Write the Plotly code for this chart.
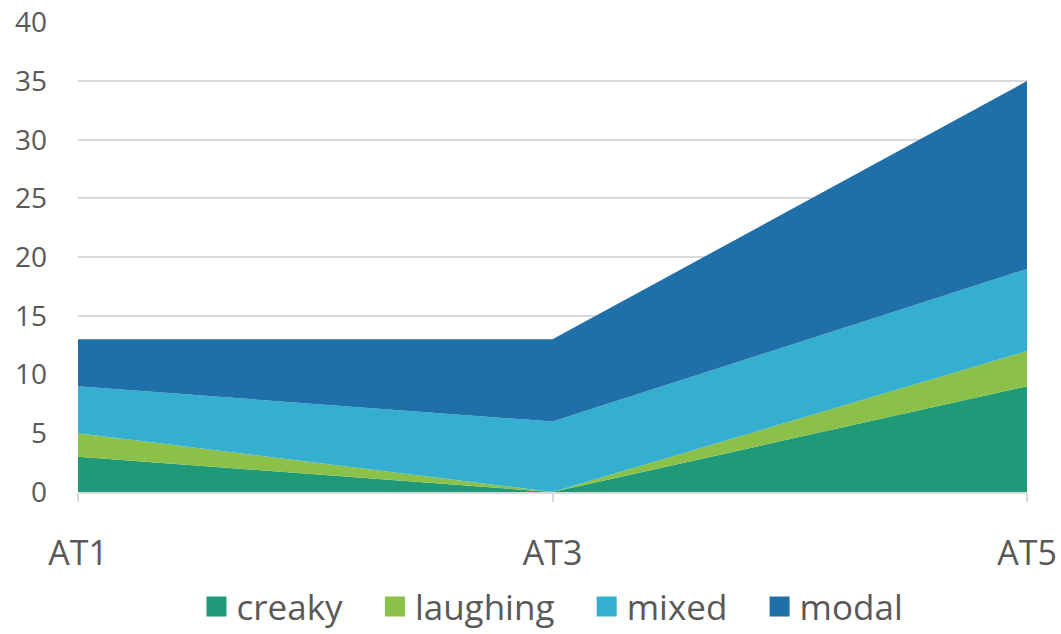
import plotly.graph_objects as go

categories = ["AT1", "AT3", "AT5"]
creaky = [3, 0, 9]
laughing = [2, 0, 3]
mixed = [4, 6, 7]
modal = [4, 7, 16]
series_names = ["creaky", "laughing", "mixed", "modal"]
colors = ["#1e9a78", "#8bc148", "#35afcf", "#1f6fa9"]
y_ticks = [0, 5, 10, 15, 20, 25, 30, 35, 40]

xpos = list(range(len(categories)))
fig = go.Figure()
for name, vals, col in zip(series_names, [creaky, laughing, mixed, modal], colors):
    fig.add_trace(go.Scatter(
        x=xpos, y=vals, name=name, mode="lines", stackgroup="one",
        line=dict(width=0, color=col), fillcolor=col, showlegend=False,
    ))
# legend-only entries with square swatches (extra spacing between entries)
pad = "\u00a0\u00a0\u00a0"
for i, (name, col) in enumerate(zip(series_names, colors)):
    label = name + (pad if i < len(series_names) - 1 else "")
    fig.add_trace(go.Scatter(
        x=[None], y=[None], name=label, mode="markers",
        marker=dict(symbol="square", size=16, color=col, line=dict(width=4, color=col)),
    ))

font_family = "Open Sans, Noto Sans, sans-serif"
fig.update_layout(
    width=1061, height=634,
    margin=dict(l=78, r=34, t=22, b=142, autoexpand=False),
    paper_bgcolor="white", plot_bgcolor="white",
    font=dict(family=font_family, color="#595959", size=28),
    showlegend=True,
    legend=dict(orientation="h", x=0.5, xanchor="center", y=-0.244, yanchor="middle",
                font=dict(size=35, color="#595959"), traceorder="normal",
                itemsizing="trace"),
    xaxis=dict(range=[0, 2], tickvals=xpos, ticktext=categories, showgrid=False,
               showline=True, linecolor="#d9d9d9", linewidth=1.5,
               ticks="outside", ticklen=8, tickcolor="#d9d9d9", tickwidth=1.5,
               tickfont=dict(size=34), ticklabelstandoff=22, ticklabeloverflow="allow",
               zeroline=False, fixedrange=True, automargin=False),
    yaxis=dict(range=[0, 40.03], tickvals=y_ticks, showgrid=True, gridcolor="#d9d9d9",
               gridwidth=1.5, zeroline=False, showline=False, ticks="",
               tickfont=dict(size=28), ticklabelstandoff=30, ticklabeloverflow="allow",
               fixedrange=True, automargin=False),
)
fig.write_html(
    "out.html",
    config={"displayModeBar": False},
    post_script="document.body.style.margin='0';document.body.style.overflow='hidden';",
)
